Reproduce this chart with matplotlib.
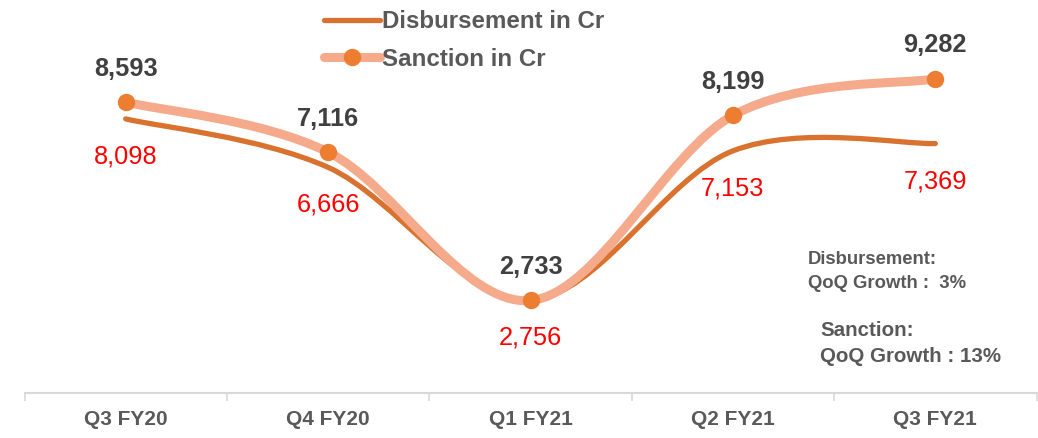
import matplotlib
matplotlib.use('Agg')
import matplotlib.pyplot as plt
from matplotlib.path import Path
from matplotlib.patches import PathPatch
from matplotlib.lines import Line2D

plt.rcParams['font.family'] = ['Liberation Sans', 'DejaVu Sans']

# ─── Data ─────────────────────────────────────────────────────────────────────
quarters = ['Q3 FY20', 'Q4 FY20', 'Q1 FY21', 'Q2 FY21', 'Q3 FY21']
disbursement = [8098, 6666, 2756, 7153, 7369]
sanction = [8593, 7116, 2733, 8199, 9282]

DISB_COLOR = '#D9722F'
SANC_COLOR = '#F4AA8B'
MARKER_COLOR = '#ED7D31'
GREY = '#595959'


def smooth_path(xs, ys):
    """Excel-style smoothed line: cubic Bezier through every point."""
    pts = list(zip(xs, ys))
    n = len(pts)
    verts = [pts[0]]
    codes = [Path.MOVETO]
    for i in range(n - 1):
        p0 = pts[max(i - 1, 0)]
        p1 = pts[i]
        p2 = pts[i + 1]
        p3 = pts[min(i + 2, n - 1)]
        c1 = (p1[0] + (p2[0] - p0[0]) / 6, p1[1] + (p2[1] - p0[1]) / 6)
        c2 = (p2[0] - (p3[0] - p1[0]) / 6, p2[1] - (p3[1] - p1[1]) / 6)
        verts += [c1, c2, p2]
        codes += [Path.CURVE4] * 3
    return Path(verts, codes)


W, H = 1038, 438
fig = plt.figure(figsize=(W / 100, H / 100), dpi=100, facecolor='white')
ax = fig.add_axes([24.5 / W, 45 / H, 1012 / W, 393 / H])

x = list(range(len(quarters)))

ax.add_patch(PathPatch(smooth_path(x, disbursement), fill=False,
                       edgecolor=DISB_COLOR, linewidth=3.8,
                       capstyle='round', zorder=2))
ax.add_patch(PathPatch(smooth_path(x, sanction), fill=False,
                       edgecolor=SANC_COLOR, linewidth=6.5,
                       capstyle='round', zorder=3))
ax.plot(x, sanction, 'o', color=MARKER_COLOR, markersize=11.5, zorder=4)

for xi, s, d in zip(x, sanction, disbursement):
    ax.annotate(f'{s:,}', (xi, s), xytext=(0, 24), textcoords='offset points',
                ha='center', va='center', fontsize=18.3, fontweight='bold',
                color='#404040')
    ax.annotate(f'{d:,}', (xi, d), xytext=(0, -27), textcoords='offset points',
                ha='center', va='center', fontsize=18.3, color='#FF0000')

ax.set_xlim(-0.5, len(quarters) - 0.5)
ax.set_ylim(0, 11610)

for side in ['top', 'right', 'left']:
    ax.spines[side].set_visible(False)
ax.spines['bottom'].set_color('#D9D9D9')
ax.spines['bottom'].set_linewidth(1.5)
ax.set_yticks([])
ax.set_xticks(x)
ax.set_xticklabels(quarters, fontsize=15, fontweight='bold', color=GREY)
ax.tick_params(axis='x', which='major', length=0, pad=12)
ax.set_xticks([i - 0.5 for i in range(len(quarters) + 1)], minor=True)
ax.tick_params(axis='x', which='minor', length=6, width=1.2, color='#D9D9D9')

handles = [
    Line2D([], [], color=DISB_COLOR, linewidth=3.8, solid_capstyle='round'),
    Line2D([], [], color=SANC_COLOR, linewidth=6.5, solid_capstyle='round',
           marker='o', markersize=11.5, markerfacecolor=MARKER_COLOR,
           markeredgecolor=MARKER_COLOR),
]
leg = fig.legend(handles, ['Disbursement in Cr', 'Sanction in Cr'],
                 loc='upper left', bbox_to_anchor=(312 / W, 1 + 2 / H),
                 frameon=False, borderpad=0, handlelength=2.3,
                 handletextpad=0.08, labelspacing=0.6, numpoints=1,
                 prop={'size': 17.4, 'weight': 'bold'})
for t in leg.get_texts():
    t.set_color(GREY)

fig.text(808 / W, 1 - 260 / H, 'Disbursement:', fontsize=13.3,
         fontweight='bold', color=GREY, va='center')
fig.text(808 / W, 1 - 284 / H, 'QoQ Growth :  3%', fontsize=13.3,
         fontweight='bold', color=GREY, va='center')
fig.text(820 / W, 1 - 331 / H, 'Sanction:', fontsize=14.8,
         fontweight='bold', color=GREY, va='center')
fig.text(820 / W, 1 - 356 / H, 'QoQ Growth : 13%', fontsize=14.8,
         fontweight='bold', color=GREY, va='center')

fig.savefig('out.png', dpi=100, facecolor='white')
